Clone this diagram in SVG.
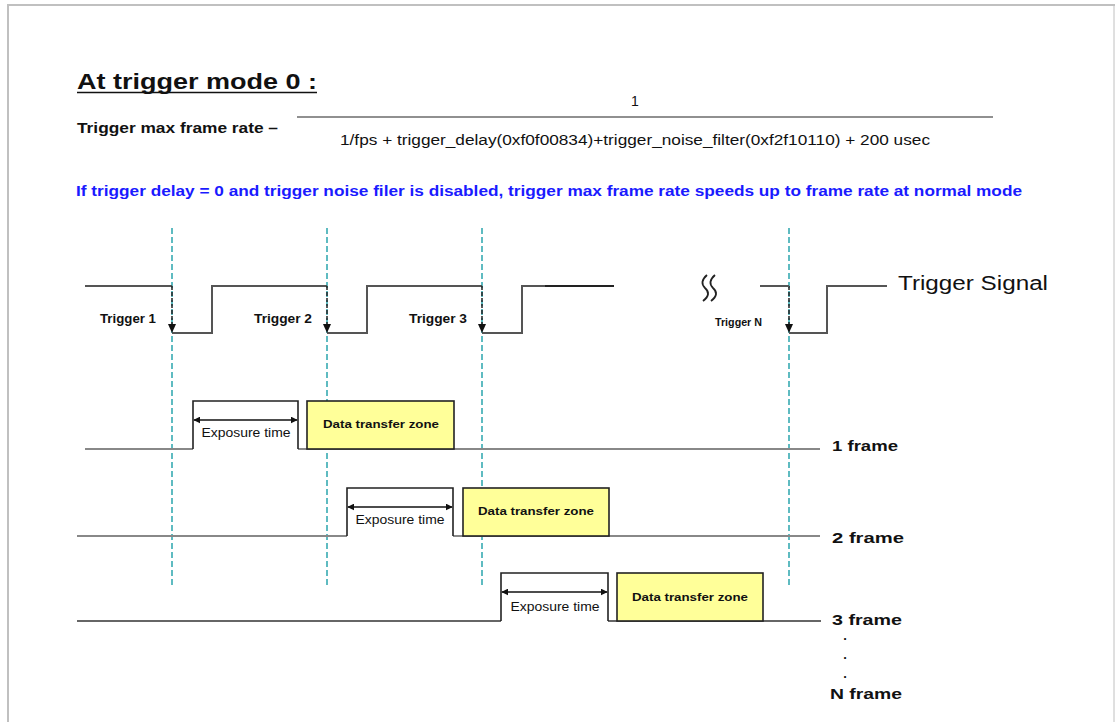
<svg xmlns="http://www.w3.org/2000/svg" width="1115" height="722" viewBox="0 0 1115 722">
<style>
.t{font-family:"Liberation Sans",Arial,sans-serif;fill:#111}
.b{font-weight:bold}
.wave{fill:none;stroke:#555;stroke-width:2}
.fl{fill:none;stroke:#888;stroke-width:2}
.fl3{fill:none;stroke:#333;stroke-width:1.6}
.exp{fill:#fff;stroke:#222;stroke-width:1.6}
.dz{fill:#ffff99;stroke:#222;stroke-width:1.6}
.dash{stroke:#2aa5ad;stroke-width:1.5;stroke-dasharray:6 3;fill:none}
.drop{stroke:#222;stroke-width:1.5;stroke-dasharray:4 2;fill:none}
.arr{stroke:#111;stroke-width:1.6;fill:none;marker-start:url(#ah);marker-end:url(#ah)}
</style>
<defs>
<marker id="ah" viewBox="0 0 10 10" refX="9" refY="5" markerWidth="7" markerHeight="7" orient="auto-start-reverse" markerUnits="userSpaceOnUse">
<path d="M0,0 L10,5 L0,10 z" fill="#111"/>
</marker>
</defs>
<rect width="1115" height="722" fill="#fff"/>
<g id="border" fill="none" stroke="#c0c0c0">
<line x1="7" y1="5" x2="1115" y2="5" stroke-width="2"/>
<line x1="8" y1="5" x2="8" y2="722" stroke-width="2"/>
<line x1="1114" y1="5" x2="1114" y2="722" stroke-width="1"/>
</g>
<g id="header">
<text class="t b" x="77" y="89" font-size="22" textLength="240" lengthAdjust="spacingAndGlyphs">At trigger mode 0 :</text>
<line x1="77" y1="92.5" x2="317" y2="92.5" stroke="#111" stroke-width="1.6"/>
<text class="t b" x="77" y="133" font-size="14" textLength="201" lengthAdjust="spacingAndGlyphs">Trigger max frame rate  –</text>
<text class="t" x="635" y="106" font-size="14" text-anchor="middle">1</text>
<line x1="297" y1="117" x2="993" y2="117" stroke="#222" stroke-width="1.2"/>
<text class="t" x="340" y="145" font-size="14" textLength="590" lengthAdjust="spacingAndGlyphs">1/fps + trigger_delay(0xf0f00834)+trigger_noise_filter(0xf2f10110) + 200 usec</text>
<text class="t b" x="76" y="196" font-size="14" fill="#1a1aff" style="fill:#1a1aff" textLength="946" lengthAdjust="spacingAndGlyphs">If trigger delay = 0 and trigger noise filer is disabled, trigger max frame rate speeds up to frame rate at normal mode</text>
</g>
<g id="connectors">
<line class="dash" x1="172" y1="228" x2="172" y2="588"/>
<line class="dash" x1="327" y1="228" x2="327" y2="588"/>
<line class="dash" x1="482" y1="228" x2="482" y2="588"/>
<line class="dash" x1="789" y1="228" x2="789" y2="588"/>
</g>
<g id="trigger-signal">
<polyline class="wave" points="85,286 172,286"/>
<polyline class="wave" points="172,333 212,333 212,286 327,286"/>
<polyline class="wave" points="327,333 367,333 367,286 482,286"/>
<polyline class="wave" points="482,333 522,333 522,286 614,286"/>
<line x1="545" y1="286" x2="614" y2="286" stroke="#222" stroke-width="2"/>
<line class="drop" x1="172" y1="286" x2="172" y2="326"/>
<line class="drop" x1="327" y1="286" x2="327" y2="326"/>
<line class="drop" x1="482" y1="286" x2="482" y2="326"/>
<line class="drop" x1="789" y1="286" x2="789" y2="326"/>
<polygon points="168,324 176,324 172,333" fill="#111"/>
<polygon points="323,324 331,324 327,333" fill="#111"/>
<polygon points="478,324 486,324 482,333" fill="#111"/>
<polygon points="785,324 793,324 789,333" fill="#111"/>
<path d="M707,275 Q699,282 705,288 Q712,294 703,301 M715,275 Q707,282 713,288 Q720,294 711,301" fill="none" stroke="#222" stroke-width="1.8"/>
<polyline class="wave" points="760,286 789,286" stroke="#222"/>
<polyline class="wave" points="789,333 827,333 827,286 887,286" stroke="#222"/>
<text class="t" x="898" y="290" font-size="20" textLength="150" lengthAdjust="spacingAndGlyphs">Trigger Signal</text>
<text class="t b" x="100" y="323" font-size="12" textLength="56" lengthAdjust="spacingAndGlyphs">Trigger 1</text>
<text class="t b" x="254" y="323" font-size="12" textLength="58" lengthAdjust="spacingAndGlyphs">Trigger 2</text>
<text class="t b" x="409" y="323" font-size="12" textLength="58" lengthAdjust="spacingAndGlyphs">Trigger 3</text>
<text class="t b" x="715" y="326" font-size="10.5" textLength="47" lengthAdjust="spacingAndGlyphs">Trigger N</text>
</g>
<g id="frame1">
<polyline class="fl" points="85,449 193,449"/>
<polyline class="fl" points="298,449 820,449"/>
<polyline class="exp" points="193,449 193,401 298,401 298,449" fill="none"/>
<line class="arr" x1="194" y1="420" x2="297" y2="420"/>
<text class="t" x="246" y="437" font-size="12" text-anchor="middle" textLength="89" lengthAdjust="spacingAndGlyphs">Exposure time</text>
<rect class="dz" x="307" y="401" width="147" height="48"/>
<text class="t b" x="381" y="428" font-size="11" text-anchor="middle" textLength="116" lengthAdjust="spacingAndGlyphs">Data transfer zone</text>
<text class="t b" x="832" y="451" font-size="15" textLength="66" lengthAdjust="spacingAndGlyphs">1 frame</text>
</g>
<g id="frame2">
<polyline class="fl" points="77,536 347,536"/>
<polyline class="fl" points="453,536 820,536"/>
<polyline class="exp" points="347,536 347,488 453,488 453,536" fill="none"/>
<line class="arr" x1="348" y1="507" x2="452" y2="507"/>
<text class="t" x="400" y="524" font-size="12" text-anchor="middle" textLength="89" lengthAdjust="spacingAndGlyphs">Exposure time</text>
<rect class="dz" x="463" y="488" width="146" height="48"/>
<text class="t b" x="536" y="515" font-size="11" text-anchor="middle" textLength="116" lengthAdjust="spacingAndGlyphs">Data transfer zone</text>
<text class="t b" x="832" y="543" font-size="15" textLength="72" lengthAdjust="spacingAndGlyphs">2 frame</text>
</g>
<g id="frame3">
<polyline class="fl3" points="77,621 501,621"/>
<polyline class="fl3" points="608,621 821,621"/>
<polyline class="exp" points="501,621 501,573 608,573 608,621" fill="none"/>
<line class="arr" x1="502" y1="592" x2="607" y2="592"/>
<text class="t" x="555" y="611" font-size="12" text-anchor="middle" textLength="89" lengthAdjust="spacingAndGlyphs">Exposure time</text>
<rect class="dz" x="617" y="573" width="146" height="48"/>
<text class="t b" x="690" y="601" font-size="11" text-anchor="middle" textLength="116" lengthAdjust="spacingAndGlyphs">Data transfer zone</text>
<text class="t b" x="832" y="625" font-size="15" textLength="70" lengthAdjust="spacingAndGlyphs">3 frame</text>
<text class="t b" x="845" y="640" font-size="13" text-anchor="middle">.</text>
<text class="t b" x="845" y="659" font-size="13" text-anchor="middle">.</text>
<text class="t b" x="845" y="678" font-size="13" text-anchor="middle">.</text>
<text class="t b" x="830" y="699" font-size="15" textLength="72" lengthAdjust="spacingAndGlyphs">N frame</text>
</g>
</svg>
